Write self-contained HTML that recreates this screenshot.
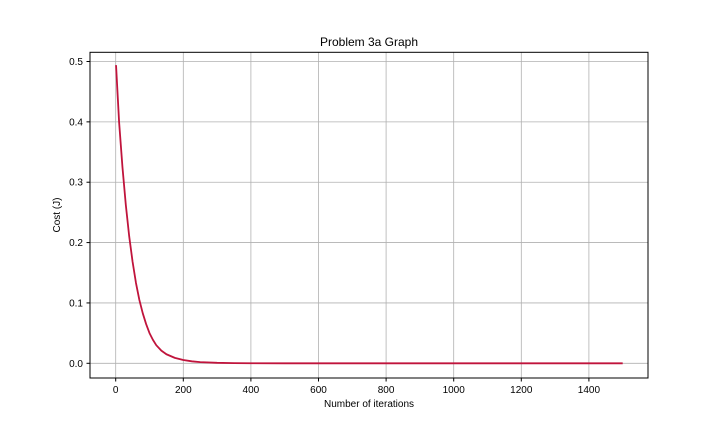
<!DOCTYPE html>
<html><head><meta charset="utf-8"><style>
body{margin:0;background:#fff;}
svg text{font-family:"Liberation Sans","DejaVu Sans",sans-serif;fill:#000;}
</style></head><body>
<svg id="chart" width="720" height="432" viewBox="0 0 720 432" xmlns="http://www.w3.org/2000/svg">
<rect width="720" height="432" fill="#fff"/>
<g id="grid"></g><g id="ticks"></g><g id="series"></g>
<rect x="90" y="52.3" width="558" height="325.7" fill="none" stroke="#000" stroke-width="1"/>
<text x="369" y="46" font-size="12" text-anchor="middle">Problem 3a Graph</text>
<text x="369" y="407" font-size="10" text-anchor="middle">Number of iterations</text>
<text x="60" y="215" font-size="10" text-anchor="middle" transform="rotate(-90 60 215)">Cost (J)</text>
</svg>
<script>
const xTicks=[0,200,400,600,800,1000,1200,1400];
const yTicks=[0.0,0.1,0.2,0.3,0.4,0.5];
const iterations=[1,10,20,30,40,50,60,70,80,90,100,110,120,135,150,175,200,225,250,300,350,400,500,1500];
const cost=[0.494,0.40,0.325,0.262,0.210,0.168,0.133,0.105,0.083,0.065,0.050,0.039,0.030,0.021,0.015,0.009,0.0055,0.0033,0.002,0.0008,0.0003,0.0001,0,0];
const X=v=>115.7+v*(183.3-115.7)/200;
const Y=v=>363.3-v*603.6;
const NS="http://www.w3.org/2000/svg";
const g=document.getElementById('grid'),t=document.getElementById('ticks'),s=document.getElementById('series');
function mk(tag,attrs,parent){const e=document.createElementNS(NS,tag);for(const k in attrs)e.setAttribute(k,attrs[k]);parent.appendChild(e);return e;}
xTicks.forEach(v=>{
 const l=mk('line',{x1:X(v),x2:X(v),y1:52.3,y2:378,stroke:'#b0b0b0','stroke-width':0.8},g);
 
 
 mk('line',{x1:X(v),x2:X(v),y1:378,y2:381.5,stroke:'#000'},t);
 const tx=mk('text',{x:X(v),y:393,'font-size':10,'text-anchor':'middle'},t);
 tx.textContent=v;
 
 
});
yTicks.forEach(v=>{
 const l=mk('line',{x1:90,x2:648,y1:Y(v),y2:Y(v),stroke:'#b0b0b0','stroke-width':0.8},g);
 
 
 mk('line',{x1:86.5,x2:90,y1:Y(v),y2:Y(v),stroke:'#000'},t);
 const tx=mk('text',{x:83,y:Y(v)+3.5,'font-size':10,'text-anchor':'end'},t);
 tx.textContent=v.toFixed(1);
 
 
});
const pts=iterations.map((v,i)=>X(v)+','+Y(cost[i])).join(' ');
const line=mk('polyline',{points:pts,fill:'none',stroke:'#c0143c','stroke-width':1.8,'stroke-linejoin':'round'},s);


</script>
</body></html>
